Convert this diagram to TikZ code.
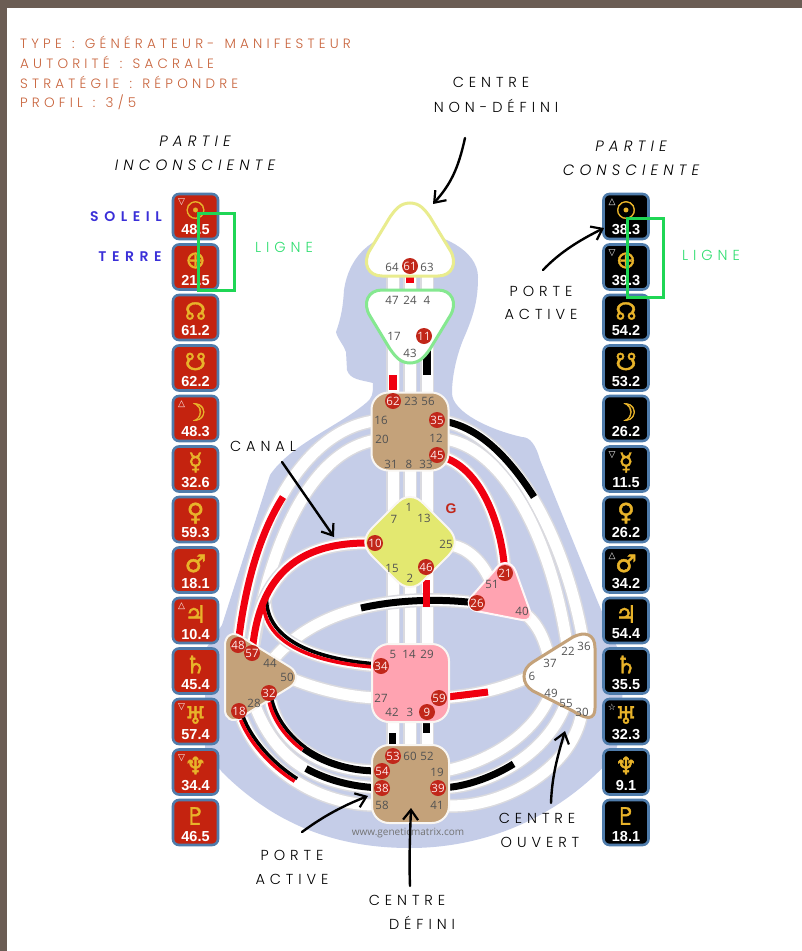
\documentclass[tikz,border=0pt]{standalone}
\usepackage{fontspec}
\usetikzlibrary{arrows.meta}
\setmainfont{Liberation Sans}
\newfontfamily\lab[LetterSpace=34,UprightFont=* Light,ItalicFont=* Light Italic]{Poppins}
\newfontfamily\labt[LetterSpace=31,WordSpace=1.3,UprightFont=* Light]{Poppins}
\newfontfamily\labb[LetterSpace=40]{Poppins SemiBold}
\newfontfamily\sym[FakeBold=1.8]{DejaVu Sans}
\newfontfamily\symm{DejaVu Sans}
\newfontfamily\gfont{Open Sans}
\newcommand{\fs}[1]{\fontsize{#1}{#1}\selectfont}
\definecolor{lavender}{HTML}{C5CDE8}
\definecolor{tubeedge}{HTML}{DADADF}
\definecolor{tan}{HTML}{C4A27A}
\definecolor{pinkc}{HTML}{FFA3B1}
\definecolor{yellowc}{HTML}{E3E870}
\definecolor{headline}{HTML}{E9EC8E}
\definecolor{ajnaline}{HTML}{85E890}
\definecolor{gatered}{HTML}{C1271A}
\definecolor{chipred}{HTML}{C4230F}
\definecolor{chipedge}{HTML}{4F7CAB}
\definecolor{gold}{HTML}{E8B32A}
\definecolor{rust}{HTML}{C8623A}
\definecolor{ligne}{HTML}{2EDE6F}
\definecolor{boxg}{HTML}{1FD655}
\definecolor{bluet}{HTML}{3A2FD8}
\definecolor{frameb}{HTML}{6B5D54}
\definecolor{redc}{HTML}{F00010}
\pgfdeclarelayer{bg}
\pgfdeclarelayer{tube}
\pgfsetlayers{bg,tube,main}
\tikzset{
  x=1pt,y=-1pt,
  tubeline/.style={preaction={draw=tubeedge,line width=14pt},draw=white,line width=11pt},
  blackch/.style={draw=black,line width=7pt},
  redch/.style={draw=redc,line width=7pt},
  blackhalf/.style={draw=black,line width=3.6pt},
  redhalf/.style={draw=redc,line width=3.6pt},
  gnum/.style={inner sep=0pt,text=black!68,font={\gfont\fs{11.5}}},
  gred/.style={circle,inner sep=0pt,minimum size=16pt,fill=gatered,text=white!92!red,font={\gfont\fs{11.5}}},
  squarec/.style={rounded corners=17pt,draw=white!90!tan,line width=2pt,inner sep=0pt,minimum width=77pt,minimum height=78pt},
  chip/.style={rounded corners=6pt,draw=chipedge,line width=2.6pt,minimum width=45pt,minimum height=45pt,inner sep=0pt},
  chipsym/.style={inner sep=0pt,text=gold,font={\sym\fs{24}}},
  chipnum/.style={inner sep=0pt,text=white,font={\bfseries\fs{14.5}}},
  chipmark/.style={inner sep=0pt,text=white!85,font={\symm\fs{9}}},
  ttl/.style={inner sep=0pt,font={\lab\fs{14.5}}},
  top/.style={inner sep=0pt,anchor=west,text=rust,font={\labt\fs{13.5}}},
  hand/.style={draw=black,line width=2.4pt,line cap=round,-{Straight Barb[length=10pt,width=15pt,line width=2.2pt]}},
  greenbox/.style={draw=boxg,line width=3pt}
}
\begin{document}
\begin{tikzpicture}
\useasboundingbox (0,0) rectangle (802,951);
\begin{pgfonlayer}{bg}
\fill[white] (0,0) rectangle (802,951);
\fill[frameb] (0,0) rectangle (802,8);
\fill[frameb] (0,0) rectangle (7,951);
\fill[lavender] (410,232) .. controls (380,232) and (350,250) .. (344,290)
 .. controls (343,305) and (342,315) .. (336,332)
 .. controls (338,340) and (344,345) .. (346,352)
 -- (347,370) .. controls (350,380) and (362,380) .. (373,383)
 .. controls (373,395) and (372,398) .. (366,403)
 .. controls (340,425) and (290,445) .. (270,475)
 -- (222,625) -- (205,650) -- (205,750) -- (222,772)
 .. controls (280,830) and (345,848) .. (410,848)
 .. controls (475,848) and (550,825) .. (610,760)
 .. controls (625,745) and (625,680) .. (617,647)
 -- (597,600) -- (540,460) .. controls (536,445) and (530,437) .. (522,437)
 .. controls (490,430) and (452,412) .. (452,393)
 .. controls (452,375) and (457,355) .. (463,340)
 .. controls (474,315) and (478,300) .. (478,277)
 .. controls (478,250) and (440,232) .. (410,232) -- cycle;
\end{pgfonlayer}

% centres
\path[fill=white,draw=headline,line width=3pt] (410,203) .. controls (400,203) and (395,210) .. (390,217) -- (370,250) .. controls (362,263) and (368,276) .. (382,276) -- (438,276) .. controls (452,276) and (458,263) .. (450,250) -- (430,217) .. controls (425,210) and (420,203) .. (410,203) -- cycle;
\path[fill=white,draw=ajnaline,line width=3pt] (410,363) .. controls (400,363) and (395,356) .. (390,349) -- (370,316) .. controls (362,303) and (368,290) .. (382,290) -- (438,290) .. controls (452,290) and (458,303) .. (450,316) -- (430,349) .. controls (425,356) and (420,363) .. (410,363) -- cycle;
\node[squarec,fill=tan] (throat) at (410,431.5) {};
\node[squarec,fill=pinkc] (sacral) at (410.5,683) {};
\node[squarec,fill=tan] (root) at (410.5,784) {};
\path[fill=yellowc,draw=white!90!tan,line width=2pt] (410,497) .. controls (416,497) and (420,500) .. (424,504) -- (448,528) .. controls (457,537) and (457,547) .. (448,556) -- (424,580) .. controls (420,584) and (416,587) .. (410,587) .. controls (404,587) and (400,584) .. (396,580) -- (372,556) .. controls (363,547) and (363,537) .. (372,528) -- (396,504) .. controls (400,500) and (404,497) .. (410,497) -- cycle;
\path[fill=pinkc,draw=white!88!pink,line width=2pt] (505,563) .. controls (500,563) and (497,567) .. (494,571) -- (471,597) .. controls (466,603) and (469,609) .. (476,611) -- (522,620) .. controls (530,621) and (532,617) .. (530,611) -- (516,572) .. controls (514,566) and (510,563) .. (505,563) -- cycle;
\path[fill=tan,draw=white!90!tan,line width=2pt] (225,645) .. controls (225,636) and (232,631) .. (240,636) -- (290,667) .. controls (298,672) and (298,682) .. (290,687) -- (240,718) .. controls (232,723) and (225,718) .. (225,710) -- cycle;
\path[fill=white,draw=tan,line width=3pt] (573,637) -- (533,662) .. controls (521,669) and (521,684) .. (533,691) -- (573,711) .. controls (587,720) and (595,720) .. (595,708) -- (595,648) .. controls (595,634) and (585,631) .. (573,637) -- cycle;

% gates
\foreach \n/\x/\y in {64/392/267,63/427/267,47/392/300,24/410/300,4/427/300,17/394/336,43/410/353,
 23/411/401,56/428/401,16/381/420,20/382/439,12/436/438,31/391/464,8/409/464,33/426/464,
 1/409/507,7/394/519,13/424/518,25/446/544,15/392/568,2/410/578,
 5/393/654,14/409/654,29/427/654,27/381/698,42/392/712,3/410/712,
 60/410/756,52/427/756,19/437/772,58/382/805,41/437/805,
 44/270/663,50/287/677,28/254/703,51/492/584,40/522/611,
 36/584/646,22/568/651,37/550/663,6/532/676,49/551/693,55/566/703,30/582/712}
  \node[gnum] (g\n) at (\x,\y) {\n};
\foreach \n/\x/\y in {61/410/266,11/424/336,62/393/401,35/437/420,45/437/455,10/375/543,46/426/567,
 34/381/666,59/439/698,9/427/712,53/393/756,54/382/771,38/382/788,39/438/788,
 48/238/645,57/252/653,32/269/693,18/239/711,21/505/573,26/477/603}
  \node[gred] (g\n) at (\x,\y) {\n};
\node[inner sep=0pt,text=gatered,font={\bfseries\fs{14}}] (glabel) at (451,509) {G};

% channels
\coordinate (vLt) at (393,270); \coordinate (vLb) at (393,760);
\coordinate (vMt) at (410,270); \coordinate (vMb) at (410,760);
\coordinate (vRt) at (427,270); \coordinate (vRb) at (427,760);
\begin{pgfonlayer}{tube}
\draw[tubeline] (vLt) -- (vLb);
\draw[tubeline] (vMt) -- (vMb);
\draw[tubeline] (vRt) -- (vRb);
\draw[tubeline] (g35) .. controls (510,435) and (565,535) .. (g36);
\draw[tubeline] (g12) .. controls (500,445) and (550,530) .. (g22);
\draw[tubeline] (g45) .. controls (480,470) and (500,520) .. (g21);
\draw[tubeline] (g25) .. controls (465,548) and (480,558) .. (g51);
\draw[tubeline] (g40) .. controls (538,625) and (545,640) .. (g37);
\draw[tubeline] (g26) .. controls (400,595) and (320,605) .. (g44);
\draw[tubeline] (g50) .. controls (320,690) and (350,697) .. (g27);
\draw[tubeline] (g59) .. controls (480,695) and (505,687) .. (g6);
\draw[tubeline] (g20) .. controls (320,450) and (275,520) .. (g57);
\draw[tubeline] (g16) .. controls (310,430) and (255,510) .. (g48);
\draw[tubeline] (g34) .. controls (310,660) and (265,640) .. (265,600);
\draw[tubeline] (g10) .. controls (310,543) and (262,565) .. (g57);
\draw[tubeline] (g41) .. controls (500,810) and (570,770) .. (g30);
\draw[tubeline] (g39) .. controls (490,785) and (545,755) .. (g55);
\draw[tubeline] (g19) .. controls (480,765) and (530,740) .. (g49);
\draw[tubeline] (g58) .. controls (320,805) and (262,770) .. (g18);
\draw[tubeline] (g38) .. controls (330,785) and (280,770) .. (g28);
\draw[tubeline] (g54) .. controls (315,770) and (278,738) .. (g32);
% activated parts
\fill[redc] (406,277) rectangle (413.5,283);
\fill[redc] (389,375) rectangle (397,390);
\fill[black] (423,347) rectangle (431,375);
\draw[blackch] (g35) .. controls (478.5,427.5) and (508,456) .. (534,497);
\draw[redch] (g45) .. controls (480,470) and (500,520) .. (g21);
\draw[blackch] (g26) .. controls (438.5,599) and (399,599.5) .. (361,608);
\fill[redc] (423,580) rectangle (430,607);
\draw[redch] (283,497) .. controls (262,530) and (246.5,577.5) .. (g48);
\draw[blackhalf,transform canvas={xshift=1.5pt,yshift=1.5pt}] (g34) .. controls (310,660) and (265,640) .. (265,600);
\draw[redhalf,transform canvas={xshift=-1.5pt,yshift=-1.5pt}] (g34) .. controls (310,660) and (265,640) .. (265,600);
\draw[redch] (g10) .. controls (310,543) and (262,565) .. (g57);
\draw[redch] (g59) -- (488,692);
\fill[black] (389,733) rectangle (396,745);
\fill[black] (423,723) rectangle (430,733);
\draw[blackch] (g54) .. controls (348.5,770.5) and (322.5,762.25) .. (303.75,748.5);
\draw[blackhalf,transform canvas={xshift=1.3pt,yshift=1.3pt}] (303.75,748.5) .. controls (285,734.75) and (273.5,715.5) .. (g32);
\draw[redhalf,transform canvas={xshift=-1.3pt,yshift=-1.3pt}] (303.75,748.5) .. controls (285,734.75) and (273.5,715.5) .. (g32);
\draw[blackch] (g38) .. controls (356,786.5) and (330.5,782) .. (306,768.5);
\draw[blackhalf,transform canvas={xshift=1.3pt,yshift=1.3pt}] (295.9,780) .. controls (270.75,764) and (250.5,740.5) .. (g18);
\draw[redhalf,transform canvas={xshift=-1.3pt,yshift=-1.3pt}] (295.9,780) .. controls (270.75,764) and (250.5,740.5) .. (g18);
\draw[blackch] (g39) .. controls (464,786.5) and (490.75,778.25) .. (513.6,763.9);
\end{pgfonlayer}

% watermark
\node[inner sep=0pt,text=black!55,font={\gfont\fs{10}}] (wm) at (408,833) {www.geneticmatrix.com};

% chips
\foreach \i/\s/\n in {0/☉/48.5,1/⊕/21.5,2/☊/61.2,3/☋/62.2,4/☽/48.3,5/☿/32.6,6/♀/59.3,7/♂/18.1,8/♃/10.4,9/♄/45.4,10/♅/57.4,11/♆/34.4,12/♇/46.5}{
  \pgfmathsetmacro\yy{216.5+50.5*\i}
  \pgfmathsetmacro\ys{\yy-6.5}
  \pgfmathsetmacro\yn{\yy+13.5}
  \node[chip,fill=chipred] (L\i) at (195.5,\yy) {};
  \node[chipsym] (Ls\i) at (195.5,\ys) {\s};
  \node[chipnum] (Ln\i) at (195.5,\yn) {\n};
}
\foreach \i/\s/\n in {0/☉/38.3,1/⊕/39.3,2/☊/54.2,3/☋/53.2,4/☽/26.2,5/☿/11.5,6/♀/26.2,7/♂/34.2,8/♃/54.4,9/♄/35.5,10/♅/32.3,11/♆/9.1,12/♇/18.1}{
  \pgfmathsetmacro\yy{216.5+50.5*\i}
  \pgfmathsetmacro\ys{\yy-6.5}
  \pgfmathsetmacro\yn{\yy+13.5}
  \node[chip,fill=black] (R\i) at (626,\yy) {};
  \node[chipsym] (Rs\i) at (626,\ys) {\s};
  \node[chipnum] (Rn\i) at (626,\yn) {\n};
}
\foreach \c/\i/\m in {L/0/▽,L/4/△,L/8/△,L/10/▽,L/11/▽,R/0/△,R/1/▽,R/5/▽,R/7/△,R/10/☆}
  \node[chipmark] (m\c\i) at ([xshift=-14pt,yshift=14pt]\c\i.center) {\m};

% green boxes
\draw[greenbox] (198,213) rectangle (234,290);
\draw[greenbox] (627,218) rectangle (663,297);

% texts
\node[top] (t1) at (20,42) {TYPE : GÉNÉRATEUR- MANIFESTEUR};
\node[top] (t2) at (20,62) {AUTORITÉ : SACRALE};
\node[top] (t3) at (20,82) {STRATÉGIE : RÉPONDRE};
\node[top] (t4) at (20,102) {PROFIL : 3/5};
\node[ttl] (cn1) at (491,82) {CENTRE};
\node[ttl] (cn2) at (496,106) {NON-DÉFINI};
\node[ttl,font={\lab\itshape\fs{15}}] (pi1) at (195,141) {PARTIE};
\node[ttl,font={\lab\itshape\fs{15}}] (pi2) at (195,165) {INCONSCIENTE};
\node[ttl,font={\lab\itshape\fs{15}}] (pc1) at (631,146) {PARTIE};
\node[ttl,font={\lab\itshape\fs{15}}] (pc2) at (631,170) {CONSCIENTE};
\node[inner sep=0pt,text=bluet,font={\labb\fs{14}}] (sol) at (126,217) {SOLEIL};
\node[inner sep=0pt,text=bluet,font={\labb\fs{14}}] (ter) at (130,257) {TERRE};
\node[ttl,text=ligne] (l1) at (284,247) {LIGNE};
\node[ttl,text=ligne] (l2) at (711,255) {LIGNE};
\node[ttl] (pa1) at (541,291) {PORTE};
\node[ttl] (pa2) at (541,314) {ACTIVE};
\node[ttl] (can) at (263,446) {CANAL};
\node[ttl] (pb1) at (292,855) {PORTE};
\node[ttl] (pb2) at (292,879) {ACTIVE};
\node[ttl] (cd1) at (407,900) {CENTRE};
\node[ttl] (cd2) at (422,923) {DÉFINI};
\node[ttl] (co1) at (537,818) {CENTRE};
\node[ttl] (co2) at (540,842) {OUVERT};

% arrows
\coordinate (a1s) at (465,138); \coordinate (a1e) at (433,204);
\coordinate (a2s) at (543,270); \coordinate (a2e) at (604,228);
\coordinate (a3s) at (282,462); \coordinate (a3e) at (334,537);
\coordinate (a4s) at (302,832); \coordinate (a4e) at (368,796);
\coordinate (a5s) at (410,886); \coordinate (a5e) at (411,808);
\coordinate (a6s) at (551,803); \coordinate (a6e) at (565,731);
\draw[hand] (a1s) .. controls (458,170) and (450,185) .. (a1e);
\draw[hand] (a2s) .. controls (560,252) and (580,240) .. (a2e);
\draw[hand] (a3s) -- (a3e);
\draw[hand] (a4s) .. controls (325,815) and (345,805) .. (a4e);
\draw[hand] (a5s) .. controls (409,860) and (410,835) .. (a5e);
\draw[hand] (a6s) .. controls (552,775) and (558,755) .. (a6e);
\end{tikzpicture}
\end{document}
